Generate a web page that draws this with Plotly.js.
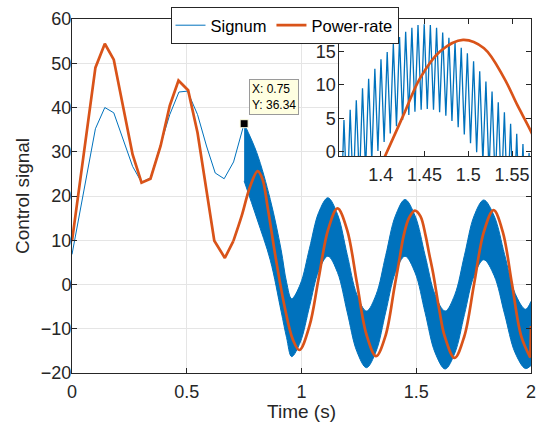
<!DOCTYPE html>
<html>
<head>
<meta charset="utf-8">
<script src="https://cdn.plot.ly/plotly-3.0.1.min.js"></script>
<style>html,body{margin:0;padding:0;background:#fff;}#chart{width:537px;height:422px;}</style>
</head>
<body>
<div id="chart"></div>
<script>
// ---- Signum: coarse part (t <= 0.75) ----
const sigT = [0, 0.102, 0.143, 0.182, 0.264, 0.303, 0.342, 0.386, 0.426, 0.466, 0.503, 0.547, 0.586, 0.624, 0.663, 0.704, 0.75];
const sigY = [6.8, 35.2, 40.0, 38.8, 26.7, 23.1, 24.1, 31.3, 38.4, 43.5, 43.7, 38.4, 31.3, 25.2, 23.9, 27.7, 36.34];

// ---- Signum: chattering band (t >= 0.75), upper / lower envelopes ----
const bandT     = [0.75, 0.805, 0.864, 0.911, 0.935, 0.957, 0.995, 1.035, 1.075, 1.115, 1.157, 1.199, 1.241, 1.283, 1.325, 1.367, 1.409, 1.451, 1.495, 1.5385, 1.582, 1.626, 1.668, 1.71, 1.752, 1.794, 1.8395, 1.885, 1.9305, 1.976, 2.0];
const bandUpper = [36.34, 29.8, 19.2, 7.9, 0.5, -3.2, 0.1, 8.2, 16.3, 19.6, 15.85, 6.8, -2.25, -6.0, -2.3, 6.6, 15.5, 19.2, 15.5, 6.6, -2.3, -6.0, -2.3, 6.6, 15.5, 19.1, 15.5, 6.75, -2.0, -5.6, -3.8];
const bandLower = [23.4, 15.0, 5.5, -6.0, -12.0, -16.3, -13.0, -4.95, 3.1, 6.4, 2.7, -6.2, -15.1, -18.8, -15.1, -6.2, 2.7, 6.4, 2.65, -6.35, -15.4, -19.1, -15.5, -6.75, 2.0, 5.6, 2.0, -6.7, -15.4, -19.0, -18.3];

// ---- Signum in the inset: chatter peaks and troughs ----
const insetPeakT = [1.3580, 1.3651, 1.3721, 1.3792, 1.3862, 1.3933, 1.4003, 1.4074, 1.4144, 1.4215, 1.4285, 1.4356, 1.4426, 1.4497, 1.4567, 1.4638, 1.4708, 1.4779, 1.4849, 1.4920, 1.4990, 1.5061, 1.5131, 1.5202, 1.5272, 1.5343, 1.5413, 1.5484, 1.5554, 1.5625, 1.5695];
const insetPeakY = [4.75, 6.3, 7.7, 9.5, 10.9, 12.4, 13.8, 14.9, 16.1, 17.1, 17.9, 18.5, 18.9, 19.0, 18.9, 18.5, 17.8, 17.0, 16.3, 15.5, 14.7, 13.5, 12.0, 10.5, 9.0, 7.4, 5.9, 4.2, 2.7, 1.2, -0.15];
const insetTroughT = [1.3545, 1.3616, 1.3686, 1.3757, 1.3827, 1.3898, 1.3968, 1.4039, 1.4109, 1.4180, 1.4250, 1.4321, 1.4391, 1.4462, 1.4532, 1.4603, 1.4673, 1.4744, 1.4814, 1.4885, 1.4955, 1.5026, 1.5096, 1.5167, 1.5237, 1.5308, 1.5378, 1.5449, 1.5519, 1.5590, 1.5660, 1.5730];
const insetTroughY = [-9.6, -7.9, -6.2, -4.6, -2.9, -1.35, 0.15, 1.5, 2.75, 3.85, 4.75, 5.5, 6.0, 6.3, 6.4, 6.3, 5.9, 5.4, 4.6, 3.7, 2.6, 1.3, -0.05, -1.55, -3.1, -4.8, -6.5, -8.2, -9.8, -11.4, -12.9, -14.3];

// ---- Power-rate ----
const prT = [0, 0.102, 0.143, 0.182, 0.264, 0.303, 0.342, 0.386, 0.426, 0.464, 0.506, 0.547, 0.62, 0.666, 0.703];
const prY = [9.8, 49.0, 54.4, 50.8, 29.4, 23.0, 23.9, 31.3, 40.4, 46.1, 43.9, 34.3, 9.9, 6.0, 9.8];
const prSmoothT = [0.703, 0.74, 0.775, 0.809, 0.83, 0.853, 0.889, 0.926, 0.962, 0.991, 1.035, 1.074, 1.116, 1.157, 1.199, 1.241, 1.283, 1.325, 1.366, 1.405, 1.426, 1.445, 1.468, 1.494, 1.518, 1.541, 1.556, 1.573, 1.6, 1.624, 1.667, 1.7095, 1.752, 1.7945, 1.837, 1.877, 1.917, 1.957, 1.997];
const prSmoothY = [9.8, 15.6, 22.0, 25.6, 23.8, 17.3, 5.6, -4.9, -12.4, -14.8, -9.3, 1.2, 12.4, 17.2, 12.3, 0.5, -11.3, -16.2, -11.6, -0.6, 5.5, 11.0, 15.0, 16.7, 15.45, 11.0, 7.0, 2.7, -5.6, -11.7, -16.6, -11.7, 0.1, 11.9, 16.8, 11.9, 0.15, -11.6, -16.5];
const prEndT = [1.997, 2.0];
const prEndY = [-16.5, -9.4];

// ---- ticks / labels ----
const xTicks = [0, 0.5, 1, 1.5, 2];
const xTickText = ['0', '0.5', '1', '1.5', '2'];
const yTicks = [-20, -10, 0, 10, 20, 30, 40, 50, 60];
const insetXTicks = [1.4, 1.45, 1.5, 1.55];
const insetXTickText = ['1.4', '1.45', '1.5', '1.55'];
const insetYTicks = [0, 5, 10, 15];

const BLUE = '#0072BD', ORANGE = '#D95319', AX = '#262626';
const FONT = 'Liberation Sans, Arial, Helvetica, sans-serif';

// merge inset troughs/peaks in time order
const zzT = [], zzY = [];
for (let i = 0; i < insetTroughT.length; i++) {
  zzT.push(insetTroughT[i]); zzY.push(insetTroughY[i]);
  if (i < insetPeakT.length) { zzT.push(insetPeakT[i]); zzY.push(insetPeakY[i]); }
}

const tipX = sigT[sigT.length - 1], tipY = sigY[sigY.length - 1];

const traces = [
  {x: bandT, y: bandLower, type: 'scatter', mode: 'lines', line: {color: BLUE, width: 1, shape: 'spline'}, showlegend: false, hoverinfo: 'skip'},
  {x: bandT, y: bandUpper, type: 'scatter', mode: 'lines', line: {color: BLUE, width: 1, shape: 'spline'}, fill: 'tonexty', fillcolor: BLUE, showlegend: false, hoverinfo: 'skip'},
  {x: sigT, y: sigY, type: 'scatter', mode: 'lines', name: 'Signum', line: {color: BLUE, width: 1}, legendgroup: 's'},
  {x: prT, y: prY, type: 'scatter', mode: 'lines', name: 'Power-rate', line: {color: ORANGE, width: 2.7}, legendgroup: 'p'},
  {x: prSmoothT, y: prSmoothY, type: 'scatter', mode: 'lines', line: {color: ORANGE, width: 2.7, shape: 'spline'}, showlegend: false, legendgroup: 'p'},
  {x: prEndT, y: prEndY, type: 'scatter', mode: 'lines', line: {color: ORANGE, width: 2.7}, showlegend: false, legendgroup: 'p'},
  {x: [tipX], y: [tipY], type: 'scatter', mode: 'markers', marker: {symbol: 'square', size: 8, color: '#000', line: {color: '#ffffe1', width: 1}}, showlegend: false},
  // inset
  {x: zzT, y: zzY, xaxis: 'x2', yaxis: 'y2', type: 'scatter', mode: 'lines', line: {color: BLUE, width: 1.3}, showlegend: false},
  {x: prSmoothT, y: prSmoothY, xaxis: 'x2', yaxis: 'y2', type: 'scatter', mode: 'lines', line: {color: ORANGE, width: 2.7, shape: 'spline'}, showlegend: false}
];

const axCommon = {
  showline: true, linecolor: AX, linewidth: 1, mirror: 'ticks', ticks: 'inside', ticklen: 5,
  tickcolor: AX, tickwidth: 1, zeroline: false, tickfont: {family: FONT, size: 18, color: AX}
};

const layout = {
  width: 537, height: 422,
  margin: {l: 72, r: 6, t: 19, b: 49},
  paper_bgcolor: '#fff', plot_bgcolor: '#fff',
  font: {family: FONT, color: AX},
  showlegend: true,
  xaxis: Object.assign({}, axCommon, {
    range: [0, 2], tickvals: xTicks, ticktext: xTickText, showgrid: true, gridcolor: '#e5e5e5',
    ticklabelstandoff: 2,
    title: {text: 'Time (s)', font: {family: FONT, size: 19, color: AX}, standoff: 0}
  }),
  yaxis: Object.assign({}, axCommon, {
    range: [-20, 60], tickvals: yTicks, showgrid: true, gridcolor: '#e5e5e5',
    ticklabelstandoff: -4,
    title: {text: 'Control signal', font: {family: FONT, size: 19, color: AX}, standoff: 6}
  }),
  xaxis2: Object.assign({}, axCommon, {
    domain: [0.5824, 1], anchor: 'y2', range: [1.3527, 1.5717], tickvals: insetXTicks, ticktext: insetXTickText, showgrid: false,
    ticklabelstandoff: 2
  }),
  yaxis2: Object.assign({}, axCommon, {
    domain: [0.613, 1], anchor: 'x2', range: [-0.6, 19.8], tickvals: insetYTicks, showgrid: false,
    ticklabelstandoff: -1
  }),
  legend: {
    orientation: 'h', x: 0.2146, y: 1.034, xanchor: 'left', yanchor: 'top',
    bgcolor: '#fff', bordercolor: AX, borderwidth: 1, font: {family: FONT, size: 16.5, color: '#000'},
    tracegroupgap: 0
  },
  annotations: [{
    x: tipX, y: tipY, xref: 'x', yref: 'y', showarrow: false, xanchor: 'left', yanchor: 'bottom',
    xshift: 5, yshift: 9, align: 'left',
    text: 'X: ' + tipX + '<br>Y: ' + tipY,
    font: {family: FONT, size: 12, color: '#000'},
    bgcolor: '#ffffe1', bordercolor: '#9a9a9a', borderwidth: 1, borderpad: 2
  }]
};

Plotly.newPlot('chart', traces, layout, {displayModeBar: false, staticPlot: true});
</script>
</body>
</html>
